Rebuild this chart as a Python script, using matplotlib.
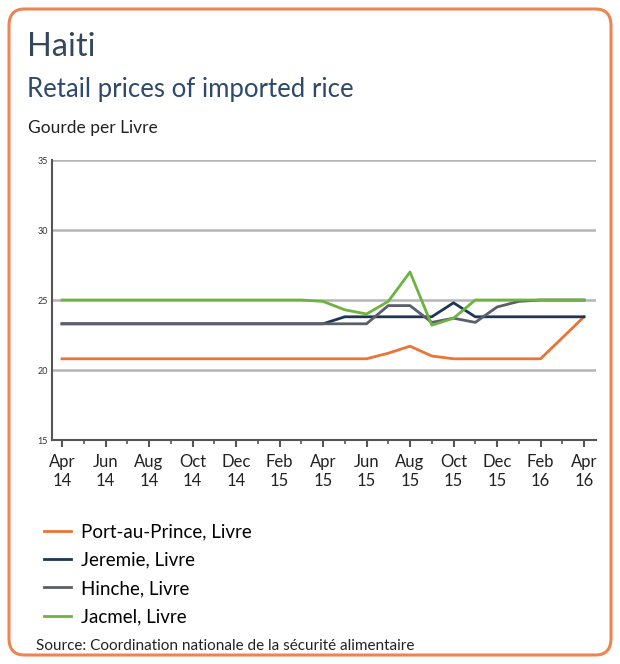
#!/usr/bin/env python3

import matplotlib.pyplot as plt
from matplotlib.patches import FancyBboxPatch
from matplotlib.ticker import MultipleLocator

# monthly retail prices, Apr 2014 .. Apr 2016 (gourde per livre)
months = list(range(25))
tick_labels = ['Apr\n14', 'Jun\n14', 'Aug\n14', 'Oct\n14', 'Dec\n14', 'Feb\n15', 'Apr\n15',
               'Jun\n15', 'Aug\n15', 'Oct\n15', 'Dec\n15', 'Feb\n16', 'Apr\n16']

port_au_prince = [20.8] * 14 + [20.8, 21.2, 21.7, 21.0, 20.8, 20.8, 20.8, 20.8, 20.8, 22.3, 23.8]
jeremie = [23.3] * 12 + [23.3, 23.8, 23.8, 23.8, 23.8, 23.8, 24.8, 23.8, 23.8, 23.8, 23.8, 23.8, 23.8]
hinche = [23.3] * 12 + [23.3, 23.3, 23.3, 24.6, 24.6, 23.4, 23.7, 23.4, 24.5, 24.9, 25.0, 25.0, 25.0]
jacmel = [25.0] * 11 + [25.0, 24.9, 24.3, 24.0, 24.9, 27.0, 23.2, 23.7, 25.0, 25.0, 25.0, 25.0, 25.0, 25.0]

series = [
    ('Port-au-Prince, Livre', port_au_prince, '#EA7436'),
    ('Jeremie, Livre', jeremie, '#1E3654'),
    ('Hinche, Livre', hinche, '#5B5E6B'),
    ('Jacmel, Livre', jacmel, '#6CB33F'),
]

plt.rcParams['font.family'] = ['Lato', 'DejaVu Sans']

fig = plt.figure(figsize=(6.2, 6.64), dpi=100)

# rounded orange frame, kept behind the axes
frame = FancyBboxPatch((9 / 620, 9 / 664), 602 / 620, 646 / 664,
                       boxstyle='round,pad=0,rounding_size=0.025',
                       transform=fig.transFigure, facecolor='white',
                       edgecolor='#EE8550', linewidth=2.2, zorder=-5)
fig.patches.append(frame)

fig.text(27 / 620, 1 - 47 / 664, 'Haiti', fontsize=23.5, color='#35475C', va='center')
fig.text(27 / 620, 1 - 89 / 664, 'Retail prices of imported rice', fontsize=18.5,
         color='#2D4A6C', va='center')
fig.text(28 / 620, 1 - 128 / 664, 'Gourde per Livre', fontsize=12.5, color='#222222',
         va='center')

ax = fig.add_axes([52 / 620, 1 - 440 / 664, 544 / 620, 280 / 664])
ax.set_facecolor('none')

for label, values, color in series:
    ax.plot(months, values, color=color, linewidth=2.0, label=label, zorder=3)

ax.set_ylim(15, 35)
ax.set_xlim(-0.46, 24.55)
ax.yaxis.set_major_locator(MultipleLocator(5))
ax.grid(axis='y', color='#B5B5B5', linewidth=1.8, zorder=1)
ax.set_axisbelow(True)
ax.set_xticks(range(0, 25, 2))
ax.set_xticklabels(tick_labels, fontsize=12, color='#222222', linespacing=1.25)
ax.set_xticks(range(1, 25, 2), minor=True)
ax.tick_params(axis='x', which='major', direction='out', length=5, width=1.5,
               color='#555555', pad=5, top=False)
ax.tick_params(axis='x', which='minor', direction='out', length=3, width=1.2,
               color='#555555')
ax.tick_params(axis='y', length=0, labelsize=6.5, labelcolor='#333333', pad=3)

for side in ['top', 'right']:
    ax.spines[side].set_visible(False)
for side in ['left', 'bottom']:
    ax.spines[side].set_color('#555555')
    ax.spines[side].set_linewidth(1.5)

fig.legend(loc='upper left', bbox_to_anchor=(36 / 620, 1 - 516 / 664), frameon=False,
           fontsize=13.5, handlelength=1.45, handletextpad=0.55, labelspacing=0.6,
           borderaxespad=0)

fig.text(36 / 620, 1 - 646 / 664, 'Source: Coordination nationale de la sécurité alimentaire',
         fontsize=11, color='#222222', va='center')

fig.savefig('out.png', dpi=100)
